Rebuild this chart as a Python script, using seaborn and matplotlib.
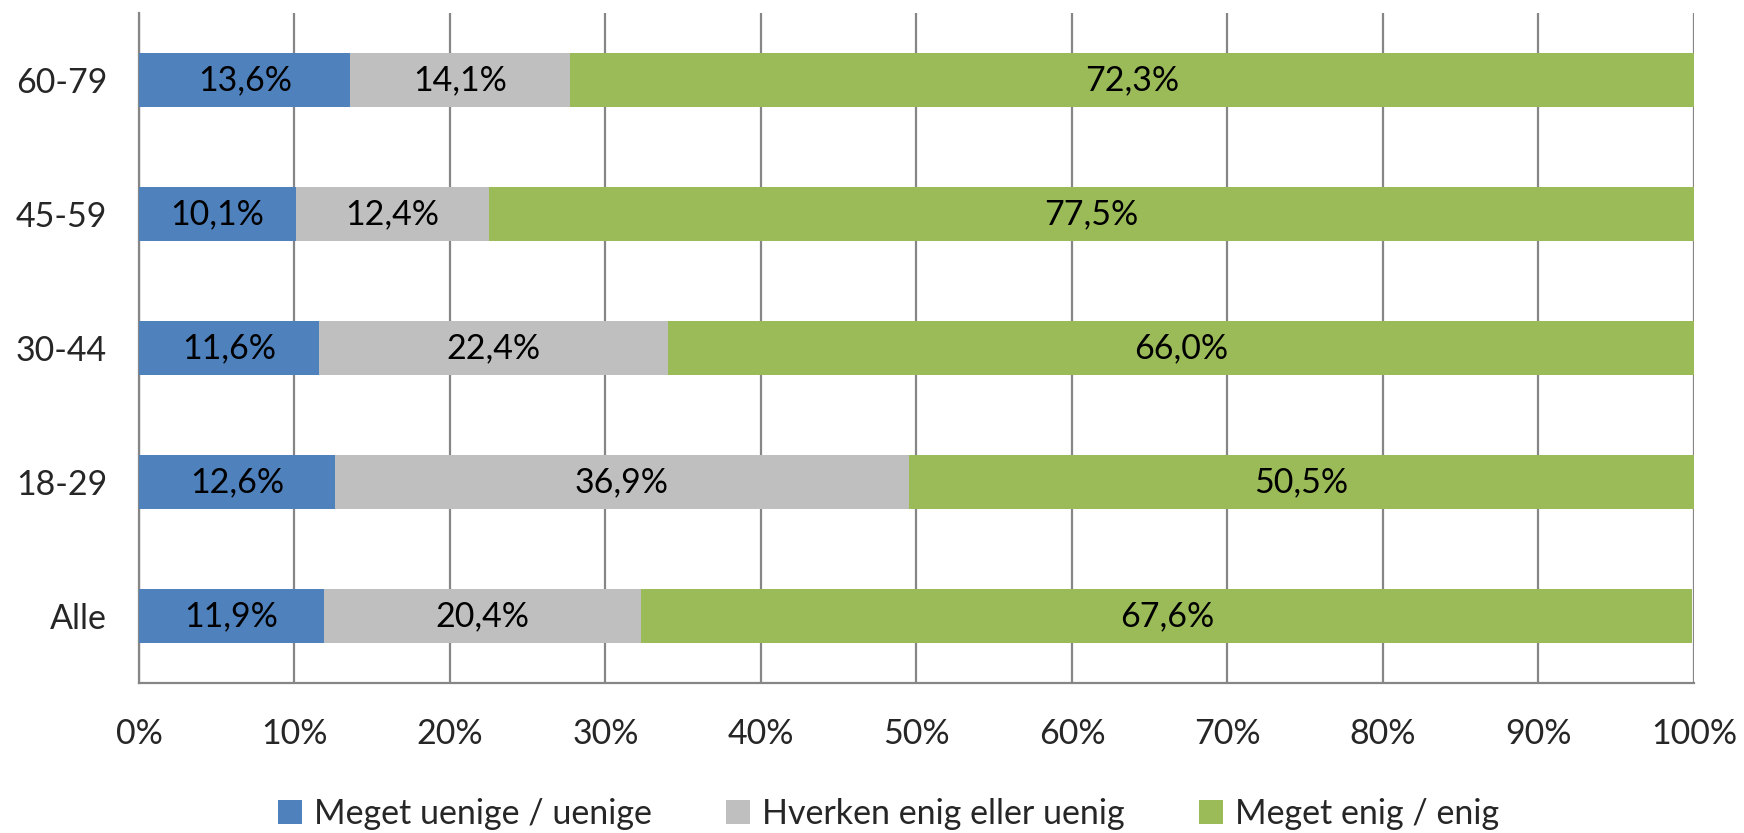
import matplotlib.pyplot as plt
import numpy as np
import pandas as pd
import seaborn as sns
from matplotlib.patches import Patch

groups = ['60-79', '45-59', '30-44', '18-29', 'Alle']
disagree = [13.6, 10.1, 11.6, 12.6, 11.9]
neutral = [14.1, 12.4, 22.4, 36.9, 20.4]
agree = [72.3, 77.5, 66.0, 50.5, 67.6]
series_names = ['Meget uenige / uenige', 'Hverken enig eller uenig', 'Meget enig / enig']
colors = ['#4F81BD', '#BFBFBF', '#9BBB59']
x_ticks = list(range(0, 101, 10))

sns.set_style('white')
plt.rcParams['font.family'] = ['Lato', 'DejaVu Sans']

df = pd.DataFrame({'group': groups, 'd': disagree, 'n': neutral, 'a': agree})
df['cum_d'] = df['d']
df['cum_n'] = df['d'] + df['n']
df['cum_a'] = df['d'] + df['n'] + df['a']

fig = plt.figure(figsize=(17.44, 8.33), dpi=100)
ax = fig.add_axes([0.0797, 0.180, 0.8916, 0.8044])

# stack by drawing cumulative totals from the back
for col, c in zip(['cum_a', 'cum_n', 'cum_d'], colors[::-1]):
    sns.barplot(data=df, x=col, y='group', order=groups, color=c, width=0.4,
                saturation=1, ax=ax, zorder=3, edgecolor='none')

fs = 24.5
for i in range(len(groups)):
    starts = [0, df['cum_d'][i], df['cum_n'][i]]
    vals = [df['d'][i], df['n'][i], df['a'][i]]
    for s, v in zip(starts, vals):
        ax.text(s + v / 2, i, f'{v:.1f}%'.replace('.', ','), ha='center', va='center',
                fontsize=fs, color='black', zorder=4)

ax.set_xlim(0, 100)
ax.set_ylim(len(groups) - 0.5, -0.5)
ax.set_xticks(x_ticks)
ax.set_xticklabels([f'{t}%' for t in x_ticks], fontsize=fs)
ax.set_yticks(range(len(groups)))
ax.set_yticklabels(groups, fontsize=fs)
ax.set_yticks(np.arange(-0.5, len(groups), 1), minor=True)
ax.set_xlabel('')
ax.set_ylabel('')

gc = '#868686'
ax.xaxis.grid(True, color=gc, linewidth=1.6, zorder=1)
ax.set_axisbelow(True)
ax.tick_params(axis='y', which='major', length=0, pad=23)
ax.tick_params(axis='y', which='minor', length=9, width=1.6, color=gc, direction='out')
ax.tick_params(axis='x', which='major', length=9, width=1.6, color=gc, direction='out', pad=16)
for side in ['top', 'right']:
    ax.spines[side].set_visible(False)
for side in ['left', 'bottom']:
    ax.spines[side].set_color(gc)
    ax.spines[side].set_linewidth(1.6)

handles = [Patch(facecolor=c, edgecolor='none') for c in colors]
fig.legend(handles, series_names, loc='center', bbox_to_anchor=(0.5095, 0.023), ncol=3,
           frameon=False, fontsize=fs, handlelength=0.7, handleheight=0.7,
           handletextpad=0.35, columnspacing=2.2)

fig.savefig('out.png', dpi=100)
